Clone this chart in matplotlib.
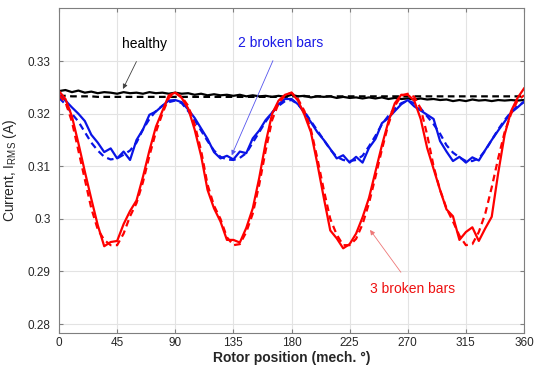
import numpy as np
import matplotlib.pyplot as plt

plt.rcParams['font.family'] = ['Liberation Sans', 'DejaVu Sans']

# rotor position in mech. degrees (5 degree steps)
pos = list(range(0, 365, 5))

healthy = [0.3243, 0.3245, 0.3241, 0.3244, 0.3240, 0.3242, 0.3239, 0.3241, 0.3240, 0.3238,
           0.3241, 0.3239, 0.3240, 0.3238, 0.3241, 0.3239, 0.3240, 0.3238, 0.3240, 0.3238,
           0.3239, 0.3236, 0.3238, 0.3235, 0.3237, 0.3235, 0.3236, 0.3234, 0.3236, 0.3233,
           0.3235, 0.3233, 0.3234, 0.3232, 0.3234, 0.3232, 0.3236, 0.3233, 0.3234, 0.3231,
           0.3233, 0.3232, 0.3233, 0.3230, 0.3232, 0.3230, 0.3231, 0.3229, 0.3231, 0.3229,
           0.3231, 0.3228, 0.3230, 0.3228, 0.3229, 0.3227, 0.3229, 0.3227, 0.3228, 0.3226,
           0.3227, 0.3224, 0.3226, 0.3224, 0.3227, 0.3225, 0.3226, 0.3224, 0.3226, 0.3225,
           0.3226, 0.3225, 0.3226]
healthy_sim = [0.3234, 0.3234, 0.3233, 0.3233, 0.3233, 0.3233, 0.3232, 0.3232, 0.3232, 0.3232,
               0.3232, 0.3232, 0.3232, 0.3232, 0.3232, 0.3232, 0.3232, 0.3232, 0.3232, 0.3232,
               0.3232, 0.3232, 0.3232, 0.3232, 0.3232, 0.3232, 0.3232, 0.3232, 0.3232, 0.3232,
               0.3232, 0.3232, 0.3232, 0.3232, 0.3232, 0.3232, 0.3233, 0.3233, 0.3233, 0.3233,
               0.3233, 0.3233, 0.3233, 0.3233, 0.3233, 0.3233, 0.3233, 0.3233, 0.3233, 0.3233,
               0.3233, 0.3233, 0.3233, 0.3233, 0.3233, 0.3233, 0.3233, 0.3233, 0.3233, 0.3233,
               0.3233, 0.3233, 0.3233, 0.3233, 0.3233, 0.3233, 0.3233, 0.3233, 0.3233, 0.3233,
               0.3233, 0.3233, 0.3233]

bars2 = [0.3236, 0.3225, 0.3212, 0.3200, 0.3186, 0.3160, 0.3145, 0.3127, 0.3134, 0.3115,
         0.3128, 0.3112, 0.3150, 0.3170, 0.3198, 0.3204, 0.3215, 0.3225,
         0.3226, 0.3222, 0.3208, 0.3192, 0.3172, 0.3152, 0.3127, 0.3115, 0.3120, 0.3113,
         0.3128, 0.3125, 0.3153, 0.3168, 0.3188, 0.3202, 0.3218, 0.3228,
         0.3228, 0.3218, 0.3202, 0.3184, 0.3165, 0.3150, 0.3133, 0.3115, 0.3121, 0.3107,
         0.3118, 0.3107, 0.3135, 0.3152, 0.3182, 0.3192, 0.3205, 0.3218,
         0.3226, 0.3214, 0.3206, 0.3198, 0.3190, 0.3148, 0.3128, 0.3110, 0.3118, 0.3107,
         0.3117, 0.3111, 0.3131, 0.3150, 0.3168, 0.3185, 0.3202, 0.3212, 0.3223]
bars2_sim = [0.3230, 0.3218, 0.3200, 0.3185, 0.3165, 0.3145, 0.3130, 0.3118, 0.3113, 0.3115,
             0.3122, 0.3130, 0.3145, 0.3170, 0.3190, 0.3205, 0.3215, 0.3222,
             0.3225, 0.3220, 0.3205, 0.3188, 0.3168, 0.3148, 0.3130, 0.3118, 0.3113, 0.3112,
             0.3116, 0.3125, 0.3145, 0.3165, 0.3185, 0.3202, 0.3215, 0.3224,
             0.3226, 0.3218, 0.3204, 0.3186, 0.3168, 0.3150, 0.3132, 0.3118, 0.3112, 0.3110,
             0.3112, 0.3120, 0.3138, 0.3158, 0.3180, 0.3196, 0.3210, 0.3220,
             0.3225, 0.3220, 0.3210, 0.3195, 0.3180, 0.3162, 0.3140, 0.3126, 0.3117, 0.3110,
             0.3110, 0.3115, 0.3130, 0.3150, 0.3170, 0.3188, 0.3203, 0.3215, 0.3222]

bars3 = [0.3243, 0.3228, 0.3195, 0.3144, 0.3090, 0.3038, 0.2988, 0.2948, 0.2956, 0.2958,
         0.2990, 0.3015, 0.3035, 0.3080, 0.3130, 0.3175, 0.3205, 0.3235,
         0.3240, 0.3230, 0.3210, 0.3170, 0.3120, 0.3055, 0.3020, 0.2995, 0.2960, 0.2960,
         0.2955, 0.2983, 0.3020, 0.3078, 0.3145, 0.3200, 0.3225, 0.3236,
         0.3240, 0.3225, 0.3198, 0.3165, 0.3105, 0.3040, 0.2978, 0.2963, 0.2944, 0.2952,
         0.2972, 0.3003, 0.3040, 0.3090, 0.3140, 0.3185, 0.3220, 0.3236,
         0.3236, 0.3225, 0.3190, 0.3135, 0.3095, 0.3055, 0.3018, 0.3005, 0.2960, 0.2975,
         0.2984, 0.2958, 0.2982, 0.3004, 0.3087, 0.3160, 0.3205, 0.3230, 0.3248]
bars3_sim = [0.3235, 0.3222, 0.3185, 0.3130, 0.3075, 0.3020, 0.2980, 0.2960, 0.2950, 0.2950,
             0.2972, 0.3005, 0.3030, 0.3070, 0.3120, 0.3165, 0.3200, 0.3230,
             0.3240, 0.3232, 0.3215, 0.3180, 0.3130, 0.3065, 0.3025, 0.3000, 0.2965, 0.2950,
             0.2952, 0.2975, 0.3010, 0.3065, 0.3130, 0.3188, 0.3220, 0.3235,
             0.3240, 0.3228, 0.3205, 0.3170, 0.3115, 0.3055, 0.3000, 0.2970, 0.2950, 0.2950,
             0.2962, 0.2990, 0.3030, 0.3080, 0.3132, 0.3180, 0.3215, 0.3234,
             0.3238, 0.3232, 0.3210, 0.3160, 0.3100, 0.3055, 0.3020, 0.2995, 0.2968, 0.2950,
             0.2952, 0.2975, 0.3010, 0.3060, 0.3115, 0.3165, 0.3200, 0.3225, 0.3235]

xticks = [0, 45, 90, 135, 180, 225, 270, 315, 360]
yticks = [0.28, 0.29, 0.30, 0.31, 0.32, 0.33]
ytick_labels = ['0.28', '0.29', '0.3', '0.31', '0.32', '0.33']

fig = plt.figure(figsize=(5.34, 3.69), dpi=100)
ax = fig.add_axes([0.1105, 0.0976, 0.8708, 0.8807])

ax.plot(pos, healthy, color='black', lw=1.6)
ax.plot(pos, healthy_sim, color='black', lw=1.6, ls=(0, (3, 2)))
ax.plot(pos, bars2, color='#0a14e6', lw=1.6)
ax.plot(pos, bars2_sim, color='#0a14e6', lw=1.6, ls=(0, (3, 2)))
ax.plot(pos, bars3, color='#ff0000', lw=1.6)
ax.plot(pos, bars3_sim, color='#ff0000', lw=1.6, ls=(0, (3, 2)))

ax.set_xlim(0, 360)
ax.set_ylim(0.2783, 0.3401)
ax.set_xticks(xticks)
ax.set_yticks(yticks)
ax.set_yticklabels(ytick_labels)
ax.grid(True, color='#e3e3e3', lw=0.8)
ax.set_axisbelow(True)
for s in ax.spines.values():
    s.set_color('#7f7f7f')
    s.set_linewidth(0.8)
ax.tick_params(direction='in', length=3, color='#7f7f7f', labelsize=8.5,
               labelcolor='#262626', top=True, right=True)
ax.tick_params(axis='x', pad=3)
ax.tick_params(axis='y', pad=6)

ax.set_xlabel('Rotor position (mech. °)', fontsize=10, fontweight='bold',
              color='#262626', labelpad=1)
ax.set_ylabel('Current, I$_{\\mathregular{RMS}}$ (A)', fontsize=10,
              color='#262626', labelpad=6)

ax.annotate('healthy', xy=(49.5, 0.3247), xytext=(66.5, 0.3332),
            fontsize=10, color='black', ha='center', va='center',
            arrowprops=dict(arrowstyle='-|>', color='#404040', lw=0.6,
                            mutation_scale=7, shrinkA=6, shrinkB=0))
ax.annotate('2 broken bars', xy=(133.7, 0.3121), xytext=(171.5, 0.3334),
            fontsize=10, color='#1a1ae6', ha='center', va='center',
            arrowprops=dict(arrowstyle='-|>', color='#5555ee', lw=0.6,
                            mutation_scale=7, shrinkA=6, shrinkB=0))
ax.annotate('3 broken bars', xy=(240.8, 0.2979), xytext=(274.0, 0.2867),
            fontsize=10, color='#ee1111', ha='center', va='center',
            arrowprops=dict(arrowstyle='-|>', color='#ee7777', lw=0.6,
                            mutation_scale=7, shrinkA=6, shrinkB=0))

fig.savefig('out.png', dpi=100)
